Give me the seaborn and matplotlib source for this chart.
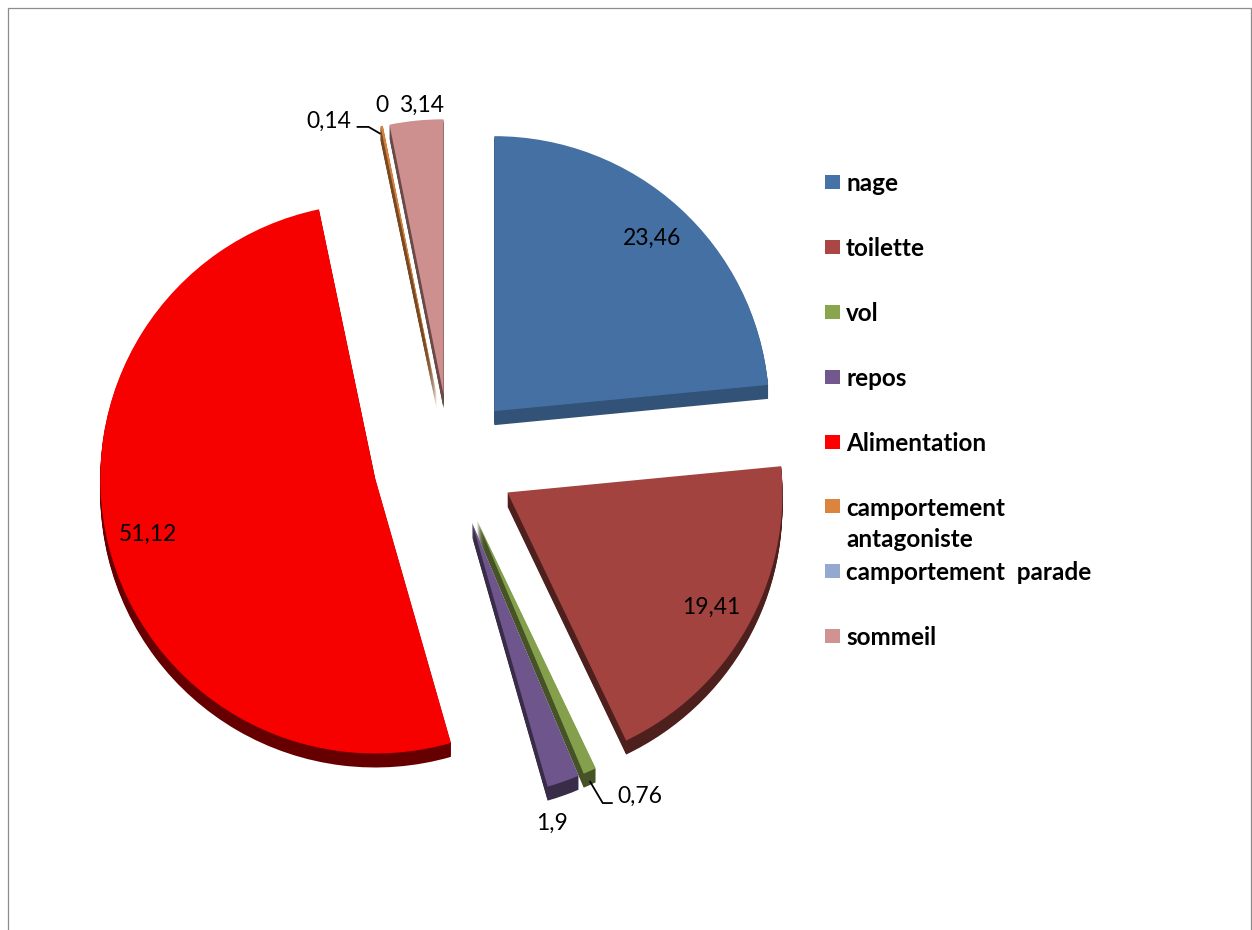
import numpy as np
import matplotlib
matplotlib.use("Agg")
import matplotlib.pyplot as plt
import seaborn as sns
from matplotlib.patches import Rectangle

# --- data -------------------------------------------------------------
categories = ["nage", "toilette", "vol", "repos", "Alimentation",
              "camportement antagoniste", "camportement  parade", "sommeil"]
legend_labels = ["nage", "toilette", "vol", "repos", "Alimentation",
                 "camportement\nantagoniste", "camportement  parade", "sommeil"]
values = [23.46, 19.41, 0.76, 1.9, 51.12, 0.14, 0, 3.14]
colors = ["#4572A7", "#AA4643", "#89A54E", "#71588F", "#FF0000",
          "#DB843D", "#93A9CF", "#D19392"]

# --- layout (pixel units, y measured from the bottom) ------------------
W, H = 1252, 930
cx, cy = 450, H - 460
R = 275
explode_frac = [0.24, 0.24, 0.24, 0.24, 0.28, 0.24, 0.24, 0.24]
depth = 14

# shading of the top faces and of the side walls
top_shade = [0.98, 0.95, 0.97, 0.97, 0.97, 0.98, 0.98, 0.98]
side_shade = [0.72, 0.45, 0.5, 0.5, 0.4, 0.55, 0.55, 0.5]

# label placement: "in" = inside the slice, otherwise offset from slice tip
label_mode = ["in", "in", "out", "out", "in", "out", "out", "out"]
label_offset = {2: (50, 25), 3: (-11, 42), 5: (-53, -5), 6: (-1, -20), 7: (5, -15)}
leaders = {2: [(0, 10), (13, 32), (23, 32)],
           5: [(-1, 8), (-13, 1), (-25, 1)]}

sns.set_theme(style="white")
plt.rcParams["font.family"] = ["Lato", "DejaVu Sans"]

palette = sns.color_palette(colors)
tops = [tuple(c * s for c in col) for col, s in zip(palette, top_shade)]
sides = [tuple(c * s for c in col) for col, s in zip(palette, side_shade)]

fig = plt.figure(figsize=(W / 100, H / 100), dpi=100)
ax = fig.add_axes([0, 0, 1, 1])

explode = [e * R for e in explode_frac]
pie_kw = dict(explode=explode, radius=R, startangle=90, counterclock=False)

# side walls: stacked darker copies shifted downwards
for d in range(depth, 0, -1):
    side, _ = ax.pie(values, center=(cx, cy - d), colors=sides,
                     wedgeprops=dict(linewidth=0), **pie_kw)
    for w in side:
        w.set_zorder(1)

# top faces
wedges, _ = ax.pie(values, center=(cx, cy), colors=tops,
                   wedgeprops=dict(linewidth=0), **pie_kw)
for w in wedges:
    w.set_zorder(2)

ax.set_xlim(0, W)
ax.set_ylim(0, H)
ax.set_aspect("auto")
ax.axis("off")

def fmt(v):
    return f"{v:g}".replace(".", ",")

for i, (w, v) in enumerate(zip(wedges, values)):
    mid = np.deg2rad((w.theta1 + w.theta2) / 2)
    ux, uy = np.cos(mid), np.sin(mid)
    x0, y0 = w.center
    if label_mode[i] == "in":
        tx, ty = x0 + 0.85 * R * ux, y0 + 0.85 * R * uy
    else:
        tipx, tipy = x0 + R * ux, y0 + R * uy
        dx, dy = label_offset[i]
        tx, ty = tipx + dx, tipy - dy
        if i in leaders:
            pts = [(tipx + a, tipy - b) for a, b in leaders[i]]
            ax.plot([p[0] for p in pts], [p[1] for p in pts],
                    color="black", lw=1.3, zorder=3, solid_capstyle="butt")
    ax.text(tx, ty, fmt(v), ha="center", va="center", fontsize=16.5,
            color="black", zorder=4)

# legend
for i, (lab, col) in enumerate(zip(legend_labels, palette)):
    yc = H - (182 + 64.9 * i)
    ax.add_patch(Rectangle((825, yc - 7), 15, 14, facecolor=col,
                           edgecolor="none", zorder=3))
    ax.text(846, yc + 10, lab, ha="left", va="top", fontsize=17.5,
            fontweight="bold", color="black", linespacing=1.45, zorder=3)

# chart area border
fig.add_artist(Rectangle((8 / W, -0.05), (1251 - 8) / W, (H - 8) / H + 0.05,
                         transform=fig.transFigure, fill=False,
                         edgecolor="#8c8c8c", lw=0.9))

fig.savefig("out.png", dpi=100)
